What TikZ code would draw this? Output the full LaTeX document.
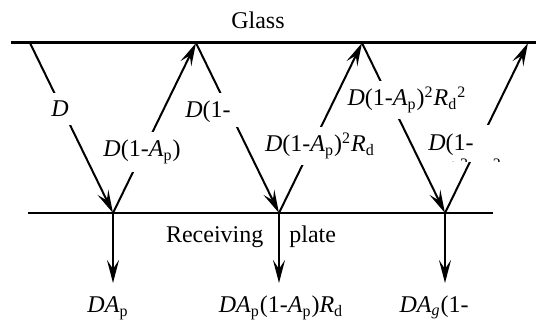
\documentclass[tikz,border=0pt]{standalone}
\usepackage{fontspec}
\setmainfont{Liberation Serif}
\usetikzlibrary{arrows.meta}
\newcommand{\Dv}{\textit{D}}
\newcommand{\Ap}{\textit{A}\textsubscript{p}}
\newcommand{\Ag}{\textit{A}\textsubscript{\textit{g}}}
\newcommand{\Rd}{\textit{R}\textsubscript{d}}
\tikzset{
  surf/.style={line width=1pt},
  ray/.style={line width=1pt, -{Stealth[length=11.5pt, width=6pt, inset=4.5pt]}},
  lbl/.style={font=\fontsize{12}{14}\selectfont, inner sep=1pt},
  wlbl/.style={lbl, fill=white},
}

\begin{document}
\begin{tikzpicture}[x=0.5pt, y=-0.5pt]
\useasboundingbox (0,0) rectangle (536,325);

% glass and plate
\coordinate (glassL) at (11,43);
\coordinate (glassR) at (536,43);
\coordinate (plateL) at (28,213);
\coordinate (plateR) at (493,213);
\draw[surf, line width=1.5pt] (glassL) -- (glassR);
\draw[surf] (plateL) -- (plateR);
\node[lbl, anchor=base] (glass) at (258,29) {Glass};
\node[lbl, anchor=base] (plate) at (251,243) {Receiving\hspace{13pt}plate};

% bounce points
\coordinate (g0) at (30,43);
\coordinate (p1) at (113,213);
\coordinate (g1) at (196,43);
\coordinate (p2) at (279,213);
\coordinate (g2) at (362,43);
\coordinate (p3) at (445,213);
\coordinate (g3) at (528,43);
\coordinate (o1) at (113,283);
\coordinate (o2) at (279,283);
\coordinate (o3) at (445,283);

\draw[ray] (g0) -- (p1);
\draw[ray] (p1) -- (g1);
\draw[ray] (g1) -- (p2);
\draw[ray] (p2) -- (g2);
\draw[ray] (g2) -- (p3);
\draw[ray] (p3) -- (g3);
\draw[ray] (p1) -- (o1);
\draw[ray] (p2) -- (o2);
\draw[ray] (p3) -- (o3);

% labels on the rays
\node[wlbl, inner ysep=4pt, anchor=base] (lD) at (60,117) {\Dv};
\node[wlbl, inner ysep=4pt, anchor=base] (l1) at (142,157) {\Dv(1-\Ap)};
\begin{scope}
  \clip (150,80) rectangle (270,127);
  \node[wlbl, inner ysep=3.5pt, align=left, anchor=north west] (l2) at (183,93)
    {\Dv(1-\\\Ap)\Rd};
\end{scope}
\node[wlbl, inner ysep=3pt, anchor=base] (l3) at (320,152) {\Dv(1-\Ap)\textsuperscript{2}\Rd};
\node[wlbl, inner ysep=3pt, anchor=base] (l4) at (407,106) {\Dv(1-\Ap)\textsuperscript{2}\Rd\textsuperscript{2}};
\begin{scope}
  \clip (424,110) rectangle (520,162);
  \node[wlbl, inner ysep=4pt, align=left, anchor=north west] (l5) at (426,125)
    {\Dv(1-\\\Ap)\textsuperscript{3}\Rd\textsuperscript{2}};
\end{scope}

% outputs
\node[lbl, anchor=base] (b1) at (108,313) {\Dv\Ap};
\node[lbl, anchor=base] (b2) at (281,313) {\Dv\Ap(1-\Ap)\Rd};
\begin{scope}
  \clip (360,280) rectangle (536,325);
  \node[lbl, align=right, anchor=north east] (b3) at (471,293)
    {\Dv\Ag(1-\\[3pt]\Ap)\textsuperscript{2}\Rd\textsuperscript{2}};
\end{scope}

\end{tikzpicture}
\end{document}
